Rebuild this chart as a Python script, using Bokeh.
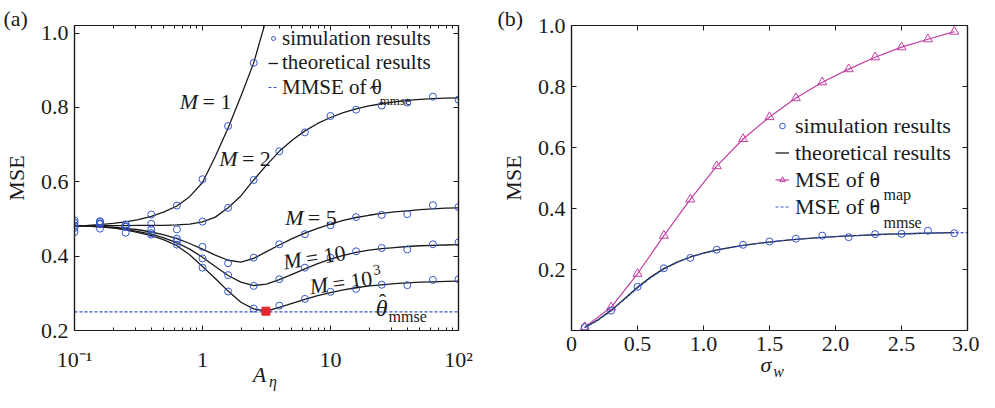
from bokeh.plotting import figure
from bokeh.layouts import row
from bokeh.models import (Range1d, FixedTicker, LogAxis, LinearAxis, Label, Legend,
                          LegendItem, CustomJSTickFormatter)
from bokeh.embed import file_html
from bokeh.resources import INLINE

FONT = "Liberation Serif"
BLUE = "#3556C6"
MAGENTA = "#C23FA3"
RED = "#E5262A"
INK = "#1a1a1a"

# ---------------- panel (a) data ----------------
a_sim_x = [0.1, 0.158, 0.251, 0.398, 0.631, 1.0, 1.585, 2.512, 3.981, 6.31,
           10.0, 15.85, 25.12, 39.81, 63.1, 100.0]
m1_sim = [0.490, 0.494, 0.485, 0.512, 0.536, 0.607, 0.750, 0.920]
m2_sim = [0.496, 0.492, 0.485, 0.487, 0.472, 0.493, 0.530, 0.605, 0.682, 0.733,
          0.777, 0.794, 0.805, 0.813, 0.829, 0.821]
m5_sim = [0.483, 0.488, 0.479, 0.472, 0.447, 0.425, 0.381, 0.396, 0.432, 0.459,
          0.483, 0.505, 0.511, 0.513, 0.537, 0.532]
m10_sim = [0.476, 0.486, 0.463, 0.462, 0.440, 0.394, 0.349, 0.320, 0.338, 0.369,
           0.396, 0.413, 0.422, 0.418, 0.432, 0.437]
m1000_sim = [0.465, 0.474, 0.479, 0.458, 0.431, 0.369, 0.305, 0.259, 0.267, 0.285,
             0.304, 0.312, 0.323, 0.322, 0.336, 0.338]

a_th_x = [0.1, 0.126, 0.158, 0.2, 0.251, 0.316, 0.398, 0.501, 0.631, 0.794,
          1.0, 1.259, 1.585, 1.995, 2.512, 3.162, 3.981, 5.012, 6.31, 7.943,
          10.0, 12.59, 15.85, 19.95, 25.12, 31.62, 39.81, 50.12, 63.1, 79.43, 100.0]
m1_th = [0.482, 0.483, 0.485, 0.488, 0.492, 0.498, 0.507, 0.519, 0.535, 0.560,
         0.598, 0.668, 0.745, 0.830, 0.920, 1.040]
m2_th = [0.482, 0.482, 0.482, 0.482, 0.482, 0.483, 0.483, 0.483, 0.484, 0.486,
         0.492, 0.505, 0.530, 0.562, 0.605, 0.645, 0.682, 0.712, 0.737, 0.757,
         0.773, 0.786, 0.796, 0.804, 0.810, 0.815, 0.819, 0.822, 0.824, 0.825, 0.826]
m5_th = [0.482, 0.481, 0.480, 0.478, 0.475, 0.471, 0.465, 0.457, 0.447, 0.434,
         0.419, 0.403, 0.389, 0.384, 0.394, 0.412, 0.430, 0.447, 0.462, 0.475,
         0.486, 0.496, 0.504, 0.510, 0.515, 0.519, 0.522, 0.525, 0.527, 0.529, 0.530]
m10_th = [0.482, 0.481, 0.479, 0.476, 0.472, 0.466, 0.459, 0.449, 0.436, 0.419,
          0.397, 0.372, 0.348, 0.330, 0.321, 0.325, 0.337, 0.351, 0.366, 0.380,
          0.392, 0.402, 0.410, 0.416, 0.420, 0.423, 0.426, 0.428, 0.429, 0.430, 0.431]
m1000_th = [0.482, 0.481, 0.479, 0.476, 0.471, 0.463, 0.455, 0.444, 0.428, 0.404,
            0.372, 0.340, 0.306, 0.276, 0.258, 0.252, 0.262, 0.273, 0.284, 0.294,
            0.302, 0.309, 0.315, 0.320, 0.323, 0.326, 0.328, 0.330, 0.331, 0.332, 0.333]
mmse_level_x = [0.1, 100.0]
mmse_level_y = [0.25, 0.25]
opt_x = [3.13]
opt_y = [0.252]

a_xticks = [0.1, 1.0, 10.0, 100.0]
a_xtick_labels = ["10\u207b\u00b9", "1", "10", "10\u00b2"]
a_yticks = [0.2, 0.4, 0.6, 0.8, 1.0]
a_ytick_labels = ["0.2", "0.4", "0.6", "0.8", "1.0"]

# ---------------- panel (b) data ----------------
b_x = [0.1, 0.3, 0.5, 0.7, 0.9, 1.1, 1.3, 1.5, 1.7, 1.9, 2.1, 2.3, 2.5, 2.7, 2.9]
b_sim = [0.011, 0.065, 0.143, 0.204, 0.238, 0.265, 0.281, 0.292, 0.301, 0.311,
         0.306, 0.316, 0.317, 0.327, 0.319]
b_map = [0.011, 0.076, 0.186, 0.311, 0.430, 0.539, 0.628, 0.700, 0.762, 0.814,
         0.857, 0.896, 0.929, 0.955, 0.980]
b_th_x = [0.1, 0.2, 0.3, 0.4, 0.5, 0.6, 0.7, 0.8, 0.9, 1.0, 1.1, 1.2, 1.3, 1.4, 1.5,
          1.6, 1.7, 1.8, 1.9, 2.0, 2.1, 2.2, 2.3, 2.4, 2.5, 2.6, 2.7, 2.8, 2.9]
b_th = [0.010, 0.035, 0.066, 0.103, 0.142, 0.175, 0.203, 0.224, 0.241, 0.254,
        0.264, 0.272, 0.279, 0.285, 0.290, 0.295, 0.299, 0.302, 0.305, 0.308,
        0.310, 0.312, 0.314, 0.316, 0.317, 0.318, 0.319, 0.320, 0.321]
b_mmse_x = [0.1, 0.2, 0.3, 0.4, 0.5, 0.6, 0.7, 0.8, 0.9, 1.0, 1.1, 1.2, 1.3, 1.4, 1.5,
            1.6, 1.7, 1.8, 1.9, 2.0, 2.1, 2.2, 2.3, 2.4, 2.5, 2.6, 2.7, 2.8, 2.9, 3.0]
b_mmse = [0.009, 0.033, 0.064, 0.101, 0.139, 0.173, 0.201, 0.223, 0.240, 0.253,
          0.263, 0.272, 0.279, 0.285, 0.290, 0.295, 0.299, 0.302, 0.305, 0.308,
          0.310, 0.312, 0.314, 0.316, 0.317, 0.318, 0.319, 0.320, 0.321, 0.321]

b_xticks = [0.0, 0.5, 1.0, 1.5, 2.0, 2.5, 3.0]
b_xtick_labels = ["0", "0.5", "1.0", "1.5", "2.0", "2.5", "3.0"]
b_yticks = [0.2, 0.4, 0.6, 0.8, 1.0]
b_ytick_labels = ["0.2", "0.4", "0.6", "0.8", "1.0"]


# ---------------- helpers ----------------
def style_axis(ax, standoff=6):
    ax.axis_line_color = INK
    ax.axis_line_width = 1.2
    ax.major_tick_line_color = INK
    ax.minor_tick_line_color = INK
    ax.major_tick_in = 5
    ax.major_tick_out = 0
    ax.minor_tick_in = 3
    ax.minor_tick_out = 0
    ax.major_label_text_font = FONT
    ax.major_label_text_font_size = "22px"
    ax.major_label_text_color = INK
    ax.major_label_standoff = standoff
    ax.axis_label_text_font = FONT
    ax.axis_label_text_font_size = "22px"
    ax.axis_label_text_font_style = "normal"
    ax.axis_label_text_color = INK


def mirror(ax_cls, ticker):
    ax = ax_cls(ticker=ticker, formatter=CustomJSTickFormatter(code="return ''"))
    style_axis(ax, 0)
    ax.major_label_text_font_size = "1px"
    return ax


def name_axis(ax_cls, pos, text, size, standoff):
    """An axis carrying a single italic tick label used as the axis name."""
    ax = ax_cls(ticker=FixedTicker(ticks=[pos], minor_ticks=[]))
    ax.major_label_overrides = {pos: text}
    ax.axis_line_color = None
    ax.major_tick_line_color = None
    ax.minor_tick_line_color = None
    ax.major_tick_in = 0
    ax.major_tick_out = 0
    ax.minor_tick_in = 0
    ax.minor_tick_out = 0
    ax.major_label_text_font = FONT
    ax.major_label_text_font_size = f"{size}px"
    ax.major_label_text_font_style = "italic"
    ax.major_label_text_color = INK
    ax.major_label_standoff = standoff
    return ax


def conv_a(px, py):
    return 10 ** ((px - 206) / 130.0), 0.2 + (341 - py) / 375.4


def conv_b(px, py):
    return (px - 579) / 132.0, (340 - py) / 308.0


def lab(p, conv, px, py, text, size=22, style="normal", angle=0.0, xo=0.0, yo=0.0):
    x, y = conv(px, py)
    p.add_layout(Label(x=x, y=y, text=text, text_font=FONT, text_font_size=f"{size}px",
                       text_font_style=style, angle=angle, text_align="left",
                       text_baseline="alphabetic", text_color=INK,
                       x_offset=xo, y_offset=yo))


def legend(items, loc, glyph_w, standoff, row_h, size=22):
    return Legend(items=items, location=loc, label_text_font=FONT,
                  label_text_font_size=f"{size}px", label_text_color=INK,
                  glyph_width=glyph_w, glyph_height=row_h, label_height=row_h,
                  label_standoff=standoff, spacing=0, padding=0, margin=0,
                  border_line_color=None, background_fill_alpha=0)


def panel_title(p, text, offset):
    p.title.text = text
    p.title.align = "left"
    p.title.offset = offset
    p.title.standoff = -11
    p.title.text_font = FONT
    p.title.text_font_size = "22px"
    p.title.text_font_style = "normal"
    p.title.text_color = INK


# ---------------- panel (a) ----------------
pa = figure(width=480, height=392, x_axis_type="log",
            x_range=Range1d(0.1, 100), y_range=Range1d(0.2, 1.0205),
            output_backend="svg", toolbar_location=None,
            min_border_left=68, min_border_right=22, min_border_top=25, min_border_bottom=59)
pa.grid.visible = False
pa.outline_line_color = INK
pa.outline_line_width = 1.2
panel_title(pa, "(a)", -71)

a_minor = []
for d in [0.1, 1.0, 10.0]:
    for k in range(2, 10):
        a_minor.append(d * k)
ax_ticker = FixedTicker(ticks=a_xticks, minor_ticks=a_minor)
ay_ticker = FixedTicker(ticks=a_yticks, minor_ticks=[])

xa = pa.xaxis[0]
xa.ticker = ax_ticker
style_axis(xa, 16)
xa.major_label_overrides = {t: s for t, s in zip(a_xticks, a_xtick_labels)}
ya = pa.yaxis[0]
ya.ticker = ay_ticker
style_axis(ya, 6)
ya.major_label_overrides = {t: s for t, s in zip(a_yticks, a_ytick_labels)}
ya.axis_label = "MSE"
ya.axis_label_standoff = 9
pa.add_layout(mirror(LogAxis, ax_ticker), "above")
pa.add_layout(mirror(LinearAxis, ay_ticker), "right")
# axis name A with subscript eta, stacked under the tick labels
pa.add_layout(name_axis(LogAxis, 2.79, "A", 22, -13), "below")
pa.add_layout(name_axis(LogAxis, 3.55, "\u03b7", 16, -17), "below")

mm = pa.line(mmse_level_x, mmse_level_y, line_color=BLUE, line_width=1.2, line_dash="3 2")
th_lines = []
for ys in [m1_th, m2_th, m5_th, m10_th, m1000_th]:
    th_lines.append(pa.line(a_th_x[:len(ys)], ys, line_color=INK, line_width=1.3))
sims = []
for ys in [m1_sim, m2_sim, m5_sim, m10_sim, m1000_sim]:
    sims.append(pa.scatter(a_sim_x[:len(ys)], ys, marker="circle", size=7,
                           fill_color=None, line_color=BLUE, line_width=1))
pa.scatter(opt_x, opt_y, marker="square", size=8, fill_color=RED, line_color=RED)

pa.add_layout(legend([LegendItem(label="simulation results", renderers=[sims[0]])],
                     (194, 279), 10, 4, 26, 21))
pa.add_layout(legend([LegendItem(label="theoretical results", renderers=[th_lines[0]])],
                     (194, 254.5), 10, 4, 26, 21))
pa.add_layout(legend([LegendItem(label="MMSE of \u03b8", renderers=[mm])],
                     (194, 230), 10, 4, 26, 21))

lab(pa, conv_a, 375.5, 102, "\u02c6", size=21)
lab(pa, conv_a, 386, 109, "mmse", size=13)
lab(pa, conv_a, 183, 110, "M", style="italic")
lab(pa, conv_a, 206, 110, "= 1")
lab(pa, conv_a, 223, 167, "M", style="italic")
lab(pa, conv_a, 246, 167, "= 2")
lab(pa, conv_a, 290, 227, "M", style="italic")
lab(pa, conv_a, 313, 227, "= 5")
lab(pa, conv_a, 288, 272, "M", style="italic", angle=0.157)
lab(pa, conv_a, 288, 272, "= 10", angle=0.157, xo=22.7, yo=3.6)
lab(pa, conv_a, 315, 297, "M", style="italic", angle=0.14)
lab(pa, conv_a, 315, 297, "= 10", angle=0.14, xo=22.8, yo=3.2)
lab(pa, conv_a, 315, 297, "3", size=15, angle=0.14, xo=63.3, yo=17.0)
lab(pa, conv_a, 382, 318, "\u03b8", size=24, style="italic")
lab(pa, conv_a, 385, 312, "\u02c6")
lab(pa, conv_a, 395, 327, "mmse", size=16)

# ---------------- panel (b) ----------------
pb = figure(width=499, height=392, x_range=Range1d(0, 3.0), y_range=Range1d(0, 1.0),
            output_backend="svg", toolbar_location=None,
            min_border_left=91, min_border_right=12, min_border_top=24, min_border_bottom=60)
pb.grid.visible = False
pb.outline_line_color = INK
pb.outline_line_width = 1.2
panel_title(pb, "(b)", -74)

bx_ticker = FixedTicker(ticks=b_xticks, minor_ticks=[])
by_ticker = FixedTicker(ticks=b_yticks, minor_ticks=[])
xb = pb.xaxis[0]
xb.ticker = bx_ticker
style_axis(xb, 6)
xb.major_label_overrides = {t: s for t, s in zip(b_xticks, b_xtick_labels)}
yb = pb.yaxis[0]
yb.ticker = by_ticker
style_axis(yb, 6)
yb.major_label_overrides = {t: s for t, s in zip(b_yticks, b_ytick_labels)}
yb.axis_label = "MSE"
yb.axis_label_standoff = 9
pb.add_layout(mirror(LinearAxis, bx_ticker), "above")
pb.add_layout(mirror(LinearAxis, by_ticker), "right")
pb.add_layout(name_axis(LinearAxis, 1.473, "\u03c3", 22, -2), "below")
pb.add_layout(name_axis(LinearAxis, 1.568, "w", 16, -17), "below")

map_line = pb.line(b_x, b_map, line_color=MAGENTA, line_width=1.2)
map_pts = pb.scatter(b_x, b_map, marker="triangle", size=9, fill_color=None,
                     line_color=MAGENTA, line_width=1)
b_thl = pb.line(b_th_x, b_th, line_color=INK, line_width=1.3)
b_mml = pb.line(b_mmse_x, b_mmse, line_color=BLUE, line_width=1.2, line_dash="3 2")
b_simp = pb.scatter(b_x, b_sim, marker="circle", size=7, fill_color=None,
                    line_color=BLUE, line_width=1)

pb.add_layout(legend([LegendItem(label="simulation results", renderers=[b_simp]),
                      LegendItem(label="theoretical results", renderers=[b_thl]),
                      LegendItem(label="MSE of \u03b8", renderers=[map_line, map_pts]),
                      LegendItem(label="MSE of \u03b8", renderers=[b_mml])],
                     (204, 110), 14, 6, 27))

lab(pb, conv_b, 879, 194, "\u02c6")
lab(pb, conv_b, 879, 221, "\u02c6")
lab(pb, conv_b, 891, 203, "map", size=16)
lab(pb, conv_b, 891, 231, "mmse", size=16)

layout = row(pa, pb)
open("out.html", "w").write(file_html(layout, INLINE))
